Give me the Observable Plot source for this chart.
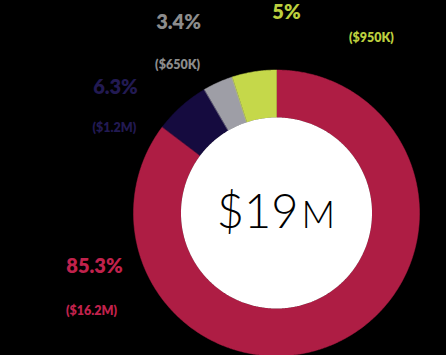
<!DOCTYPE html>
<html>
<head>
<meta charset="utf-8">
<script src="https://cdn.jsdelivr.net/npm/d3@7"></script>
<script src="https://cdn.jsdelivr.net/npm/@observablehq/plot@0.6"></script>
<style>
  html, body { margin: 0; padding: 0; background: #000; }
  #chart svg { display: block; background: #000; }
</style>
</head>
<body>
<div id="chart"></div>
<script>
// ---- data (clockwise from 12 o'clock) ----
const categories = ["A", "B", "C", "D"];
const percents = [85.3, 6.3, 3.4, 5];
const amountLabels = ["($16.2M)", "($1.2M)", "($650K)", "($950K)"];
const percentLabels = ["85.3%", "6.3%", "3.4%", "5%"];
const totalLabel = "$19";
const totalUnit = "M";

// ---- style / layout ----
const sliceColors = ["#ae1d44", "#150b3f", "#9e9ea6", "#c5d84a"];
const labelColors = ["#c0224c", "#221a52", "#8c8c8c", "#bccf3e"];
const innerR = 0.668;
// label anchor positions, in ring-radius units relative to centre
const labelPos = [
  {pct: [-1.273, -0.375], amt: [-1.293, -0.687]},
  {pct: [-1.126, 0.878], amt: [-1.133, 0.591]},
  {pct: [-0.685, 1.332], amt: [-0.692, 1.038]},
  {pct: [0.07, 1.402], amt: [0.664, 1.227]}
];

const W = 446, H = 355, cx = 276, cy = 212.5, R = 143;

// build slice polygons from the data
const total = d3.sum(percents);
const slices = [];
let acc = 0;
percents.forEach((p, i) => {
  const a0 = acc / total * 2 * Math.PI;
  acc += p;
  const a1 = acc / total * 2 * Math.PI;
  const n = Math.max(2, Math.ceil((a1 - a0) / (Math.PI / 360)));
  const pts = [];
  for (let k = 0; k <= n; k++) {
    const a = a0 + (a1 - a0) * k / n;
    pts.push({cat: categories[i], x: Math.sin(a), y: Math.cos(a)});
  }
  for (let k = n; k >= 0; k--) {
    const a = a0 + (a1 - a0) * k / n;
    pts.push({cat: categories[i], x: innerR * Math.sin(a), y: innerR * Math.cos(a)});
  }
  slices.push(...pts);
});
const disc = d3.range(0, 721).map(k => {
  const a = k / 720 * 2 * Math.PI;
  return {x: innerR * Math.sin(a), y: innerR * Math.cos(a)};
});

const labels = categories.map((c, i) => ({
  cat: c, pct: percentLabels[i], amt: amountLabels[i],
  px: labelPos[i].pct[0], py: labelPos[i].pct[1],
  ax: labelPos[i].amt[0], ay: labelPos[i].amt[1],
  color: labelColors[i]
}));

const bold = "'Lato', 'Open Sans', sans-serif";

const chart = Plot.plot({
  width: W, height: H,
  margin: 0,
  x: {domain: [-cx / R, (W - cx) / R], axis: null},
  y: {domain: [-(H - cy) / R, cy / R], axis: null},
  color: {domain: categories, range: sliceColors},
  style: {background: "#000"},
  marks: [
    Plot.line(slices, {x: "x", y: "y", z: "cat", fill: "cat", stroke: "cat", strokeWidth: 0.5, curve: "linear-closed"}),
    Plot.line(disc, {x: "x", y: "y", fill: "#fff", stroke: "none", curve: "linear-closed"}),
    Plot.text(labels, {x: "px", y: "py", text: "pct", fill: "color", fontSize: 20, fontWeight: 800, fontFamily: bold}),
    Plot.text(labels, {x: "ax", y: "ay", text: "amt", fill: "color", fontSize: 12.5, fontWeight: 800, fontFamily: bold}),
    Plot.text([totalLabel], {x: 0, y: 0, text: d => d, textAnchor: "end", dx: 22, fontSize: 47, fontWeight: 300, fill: "#000", fontFamily: "'Lato', sans-serif"}),
    Plot.text([totalUnit], {x: 0, y: 0, text: d => d, textAnchor: "start", dx: 25, dy: 3.5, fontSize: 37, fontWeight: 300, fill: "#000", fontFamily: "'Lato', sans-serif"})
  ]
});
document.getElementById("chart").append(chart);
</script>
</body>
</html>
